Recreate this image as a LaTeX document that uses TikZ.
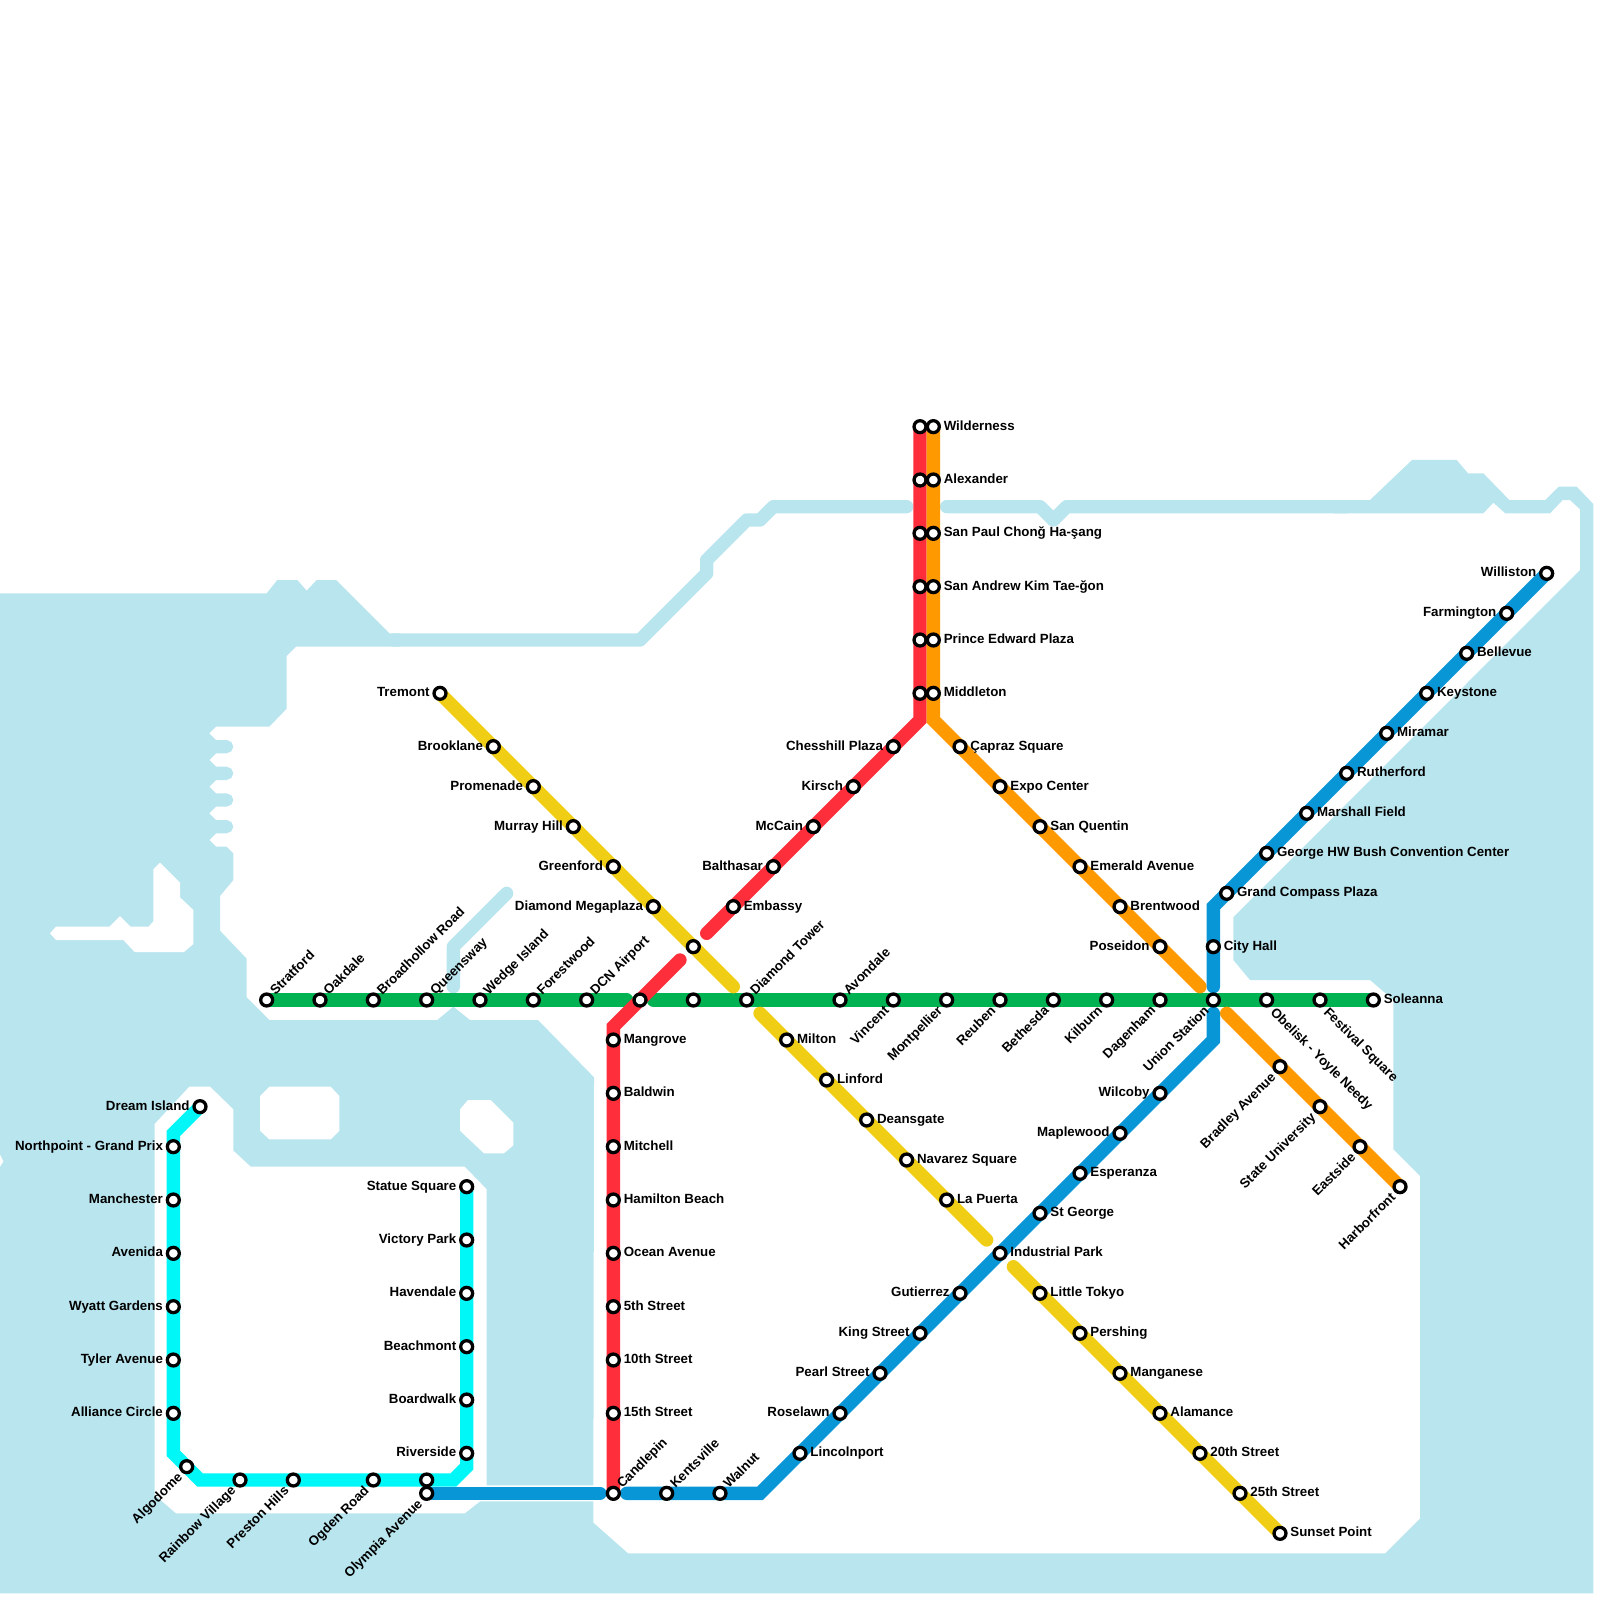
\documentclass[tikz,border=0pt]{standalone}
\usepackage{fontspec}
\setmainfont{Liberation Sans}
\usepackage{xcolor}
\usetikzlibrary{backgrounds}
\definecolor{water}{HTML}{B9E5EE}
\definecolor{metrogreen}{HTML}{00B251}
\definecolor{metrored}{HTML}{FF2E3B}
\definecolor{metroorange}{HTML}{FF9900}
\definecolor{metroblue}{HTML}{0896D7}
\definecolor{metroyellow}{HTML}{F0CE15}
\definecolor{metrocyan}{HTML}{00F7F7}
\begin{document}
\begin{tikzpicture}[
    x=.2cm, y=-.2cm,
    stn/.style={circle, draw=black, fill=white, line width=1.4pt, minimum size=5.1pt, inner sep=0pt, outer sep=0pt},
    lbl/.style={font=\fontsize{5.68}{6}\selectfont\bfseries, inner sep=0pt, outer sep=0pt, text height=4.05pt, text depth=0pt},
    tr/.style={label={[lbl, label distance=1.9pt, yshift=.5pt]right:#1}},
    tl/.style={label={[lbl, label distance=1.9pt, yshift=.5pt]left:#1}},
    tur/.style={label={[lbl, label distance=2.1pt, xshift=.6pt, yshift=-.6pt, rotate=45, anchor=west]45:#1}},
    tdl/.style={label={[lbl, label distance=2.7pt, xshift=-1.2pt, yshift=1pt, rotate=45, anchor=east]225:#1}},
    tdr/.style={label={[lbl, label distance=3pt, xshift=1pt, yshift=.6pt, rotate=-45, anchor=west]-45:#1}},
    track/.style={line width=.2cm, line cap=round},
    river/.style={draw=water, line width=.2cm, line cap=round, line join=round},
    land/.style={fill=white}
]
    \useasboundingbox (0,0) rectangle (120,120);

    \foreach \name/\x/\y/\txt in {stratford/20/75/Stratford, oakdale/24/75/Oakdale, broadhollow/28/75/Broadhollow Road, queensway/32/75/Queensway, wedge/36/75/Wedge Island, forestwood/40/75/Forestwood, dcn/44/75/DCN Airport, diamondtower/56/75/Diamond Tower, avondale/63/75/Avondale, candlepin/46/112/Candlepin, kentsville/50/112/Kentsville, walnut/54/112/Walnut}
        \node[stn, tur=\txt] (\name) at (\x,\y) {};
    \foreach \name/\x/\y/\txt in {vincent/67/75/Vincent, montpellier/71/75/Montpellier, reuben/75/75/Reuben, bethesda/79/75/Bethesda, kilburn/83/75/Kilburn, dagenham/87/75/Dagenham, union/91/75/Union Station, bradley/96/80/Bradley Avenue, stateuni/99/83/State University, eastside/102/86/Eastside, harborfront/105/89/Harborfront, algodome/14/110/Algodome, rainbow/18/111/Rainbow Village, preston/22/111/Preston Hills, ogden/28/111/Ogden Road, olympia/32/112/Olympia Avenue}
        \node[stn, tdl=\txt] (\name) at (\x,\y) {};
    \foreach \name/\x/\y/\txt in {obelisk/95/75/Obelisk - Yoyle Needy, festival/99/75/Festival Square}
        \node[stn, tdr=\txt] (\name) at (\x,\y) {};
    \foreach \name/\x/\y/\txt in {wilderness/70/32/Wilderness, alexander/70/36/Alexander, sanpaul/70/40/San Paul Chonğ Ha-şang, sanandrew/70/44/San Andrew Kim Tae-ğon, princeedward/70/48/Prince Edward Plaza, middleton/70/52/Middleton, capraz/72/56/Çapraz Square, expo/75/59/Expo Center, sanquentin/78/62/San Quentin, emerald/81/65/Emerald Avenue, brentwood/84/68/Brentwood, cityhall/91/71/City Hall, grandcompass/92/67/Grand Compass Plaza, bush/95/64/George HW Bush Convention Center, marshall/98/61/Marshall Field, rutherford/101/58/Rutherford, miramar/104/55/Miramar, keystone/107/52/Keystone, bellevue/110/49/Bellevue, soleanna/103/75/Soleanna, mangrove/46/78/Mangrove, baldwin/46/82/Baldwin, mitchell/46/86/Mitchell, hamilton/46/90/Hamilton Beach, ocean/46/94/Ocean Avenue, fifth/46/98/5th Street, tenth/46/102/10th Street, fifteenth/46/106/15th Street, embassy/55/68/Embassy, milton/59/78/Milton, linford/62/81/Linford, deansgate/65/84/Deansgate, navarez/68/87/Navarez Square, lapuerta/71/90/La Puerta, industrial/75/94/Industrial Park, stgeorge/78/91/St George, esperanza/81/88/Esperanza, littletokyo/78/97/Little Tokyo, pershing/81/100/Pershing, manganese/84/103/Manganese, alamance/87/106/Alamance, twentieth/90/109/20th Street, twentyfifth/93/112/25th Street, sunset/96/115/Sunset Point, lincolnport/60/109/Lincolnport}
        \node[stn, tr=\txt] (\name) at (\x,\y) {};
    \foreach \name/\x/\y/\txt in {tremont/33/52/Tremont, brooklane/37/56/Brooklane, promenade/40/59/Promenade, murrayhill/43/62/Murray Hill, greenford/46/65/Greenford, megaplaza/49/68/Diamond Megaplaza, chesshill/67/56/Chesshill Plaza, kirsch/64/59/Kirsch, mccain/61/62/McCain, balthasar/58/65/Balthasar, poseidon/87/71/Poseidon, wilcoby/87/82/Wilcoby, maplewood/84/85/Maplewood, gutierrez/72/97/Gutierrez, kingstreet/69/100/King Street, pearlstreet/66/103/Pearl Street, roselawn/63/106/Roselawn, williston/116/43/Williston, farmington/113/46/Farmington, dream/15/83/Dream Island, northpoint/13/86/Northpoint - Grand Prix, manchester/13/90/Manchester, avenida/13/94/Avenida, wyatt/13/98/Wyatt Gardens, tyler/13/102/Tyler Avenue, alliance/13/106/Alliance Circle, statue/35/89/Statue Square, victory/35/93/Victory Park, havendale/35/97/Havendale, beachmont/35/101/Beachmont, boardwalk/35/105/Boardwalk, riverside/35/109/Riverside}
        \node[stn, tl=\txt] (\name) at (\x,\y) {};
    \foreach \name/\x/\y in {redwilderness/69/32, redalexander/69/36, redsanpaul/69/40, redsanandrew/69/44, redprince/69/48, redmiddleton/69/52, redcross/48/75, midcross/52/75, yellowcross/52/71, cyancross/32/111}
        \node[stn] (\name) at (\x,\y) {};

    \coordinate (redtop) at (69,54);
    \coordinate (redgapa) at (53,70);
    \coordinate (redgapb) at (51,72);
    \coordinate (redbend) at (46,77);
    \coordinate (orangetop) at (70,54);
    \coordinate (orangegapa) at (90,74);
    \coordinate (orangegapb) at (92,76);
    \coordinate (greengapa) at (47,75);
    \coordinate (greengapb) at (49,75);
    \coordinate (bluebendn) at (91,68);
    \coordinate (bluegapa) at (91,74);
    \coordinate (bluegapb) at (91,76);
    \coordinate (bluebends) at (91,78);
    \coordinate (bluebendw) at (57,112);
    \coordinate (bluegapc) at (47,112);
    \coordinate (bluegapd) at (45,112);
    \coordinate (yellowgapa) at (55,74);
    \coordinate (yellowgapb) at (57,76);
    \coordinate (yellowgapc) at (74,93);
    \coordinate (yellowgapd) at (76,95);
    \coordinate (cyanbenda) at (13,85);
    \coordinate (cyanbendb) at (13,109);
    \coordinate (cyanbendc) at (15,111);
    \coordinate (cyanbendd) at (34,111);
    \coordinate (cyanbende) at (35,110);

    \begin{scope}[on background layer]
        \fill[water] (0,44.5) -- (20,44.5) -- (20.8,43.5) -- (22.3,43.5) -- (23,44.3) -- (23.75,43.5) -- (25.2,43.5) -- (29.2,47.5) -- (30,47.5) -- (30,48.5) -- (22.2,48.5) -- (21.5,49.2) -- (21.5,53.15) -- (20.2,54.5) -- (16.2,54.5)
            \foreach \y in {55,57,59,61} { -- (15.7,\y) -- (16.2,\y+.5) -- (17,\y+.5) -- (17.35,\y+.65) -- (17.5,\y+1) -- (17.35,\y+1.35) -- (17,\y+1.5) -- (16.2,\y+1.5) }
            -- (15.7,63) -- (16.2,63.5) -- (17,63.5) -- (17.5,64) -- (17.5,66) -- (16.5,67.2) -- (16.5,69.8) -- (18.5,71.9) -- (18.5,74.8) -- (20.2,76.5) -- (32.8,76.5) -- (34,75.5) -- (35.25,76.5) -- (40.35,76.5) -- (44.55,80.8) -- (44.5,114.2) -- (47.1,116.5) -- (103.9,116.5) -- (106.5,113.9) -- (106.5,88.2) -- (104.5,86.2) -- (104.5,75) -- (102.75,73.5) -- (93.75,73.5) -- (92.5,72) -- (92.5,68.8) -- (118.5,42.75) -- (118.5,38.2) -- (117.75,37.5) -- (117.2,37.5) -- (116.25,38.5) -- (112.9,38.5) -- (112,37.7) -- (111.25,38.5) -- (100,38.5) -- (100,37.5) -- (102.75,37.5) -- (105.9,34.5) -- (109.25,34.5) -- (110.1,35.5) -- (111.25,35.5) -- (113.2,37.5) -- (115.9,37.5) -- (116.9,36.5) -- (118.25,36.5) -- (119.5,37.8) -- (119.5,119.5) -- (0,119.5) -- cycle;
        \fill[land] (3.75,70) -- (4.2,69.5) -- (8.2,69.5) -- (9,68.7) -- (9.8,69.5) -- (11.15,69.5) -- (11.5,69.1) -- (11.5,65.2) -- (12,64.7) -- (13.5,66.2) -- (13.5,67.3) -- (14.5,68.25) -- (14.5,70.8) -- (13.8,71.4) -- (10.1,71.4) -- (9.25,70.5) -- (4.2,70.5) -- cycle;
        \fill[land] (14.2,81.5) -- (15.75,81.5) -- (17.5,83.2) -- (17.5,86.3) -- (18.8,87.5) -- (34.85,87.5) -- (36.5,89.2) -- (36.5,111.4) -- (44.6,111.4) -- (44.6,112.6) -- (36,112.6) -- (34.85,113.5) -- (13.2,113.5) -- (11.6,112.1) -- (11.6,84.3) -- cycle;
        \fill[land] (20.2,81.5) -- (24.8,81.5) -- (25.45,82.2) -- (25.45,84.8) -- (24.8,85.45) -- (20.2,85.45) -- (19.5,84.8) -- (19.5,82.2) -- cycle;
        \fill[land] (35.1,82.5) -- (36.8,82.5) -- (38.5,84.2) -- (38.5,85.9) -- (37.8,86.5) -- (36.3,86.5) -- (34.5,84.8) -- (34.5,83.2) -- cycle;
        \fill[land] (0,86.6) -- (.25,87.1) -- (0,87.5) -- cycle;
        \draw[river] (29.5,48) -- (48,48) -- (53,43) -- (53,42) -- (56,39) -- (57,39) -- (58,38) -- (68,38);
        \draw[river] (71,38) -- (78,38) -- (79,39) -- (80,38) -- (101,38);
        \draw[river] (38,67) -- (34,71) -- (34,74);

        \draw[track, metrogreen] (stratford.center) -- (greengapa);
        \draw[track, metrogreen] (greengapb) -- (soleanna.center);
        \draw[track, metrored] (redwilderness.center) -- (redtop) -- (redgapa);
        \draw[track, metrored] (redgapb) -- (redbend) -- (candlepin.center);
        \draw[track, metroorange] (wilderness.center) -- (orangetop) -- (orangegapa);
        \draw[track, metroorange] (orangegapb) -- (harborfront.center);
        \draw[track, metroblue] (williston.center) -- (bluebendn) -- (bluegapa);
        \draw[track, metroblue] (bluegapb) -- (bluebends) -- (bluebendw) -- (bluegapc);
        \draw[track, metroblue] (bluegapd) -- (olympia.center);
        \draw[track, metroyellow] (tremont.center) -- (yellowgapa);
        \draw[track, metroyellow] (yellowgapb) -- (yellowgapc);
        \draw[track, metroyellow] (yellowgapd) -- (sunset.center);
        \draw[track, metrocyan] (dream.center) -- (cyanbenda) -- (cyanbendb) -- (cyanbendc) -- (cyanbendd) -- (cyanbende) -- (statue.center);
    \end{scope}
\end{tikzpicture}
\end{document}
